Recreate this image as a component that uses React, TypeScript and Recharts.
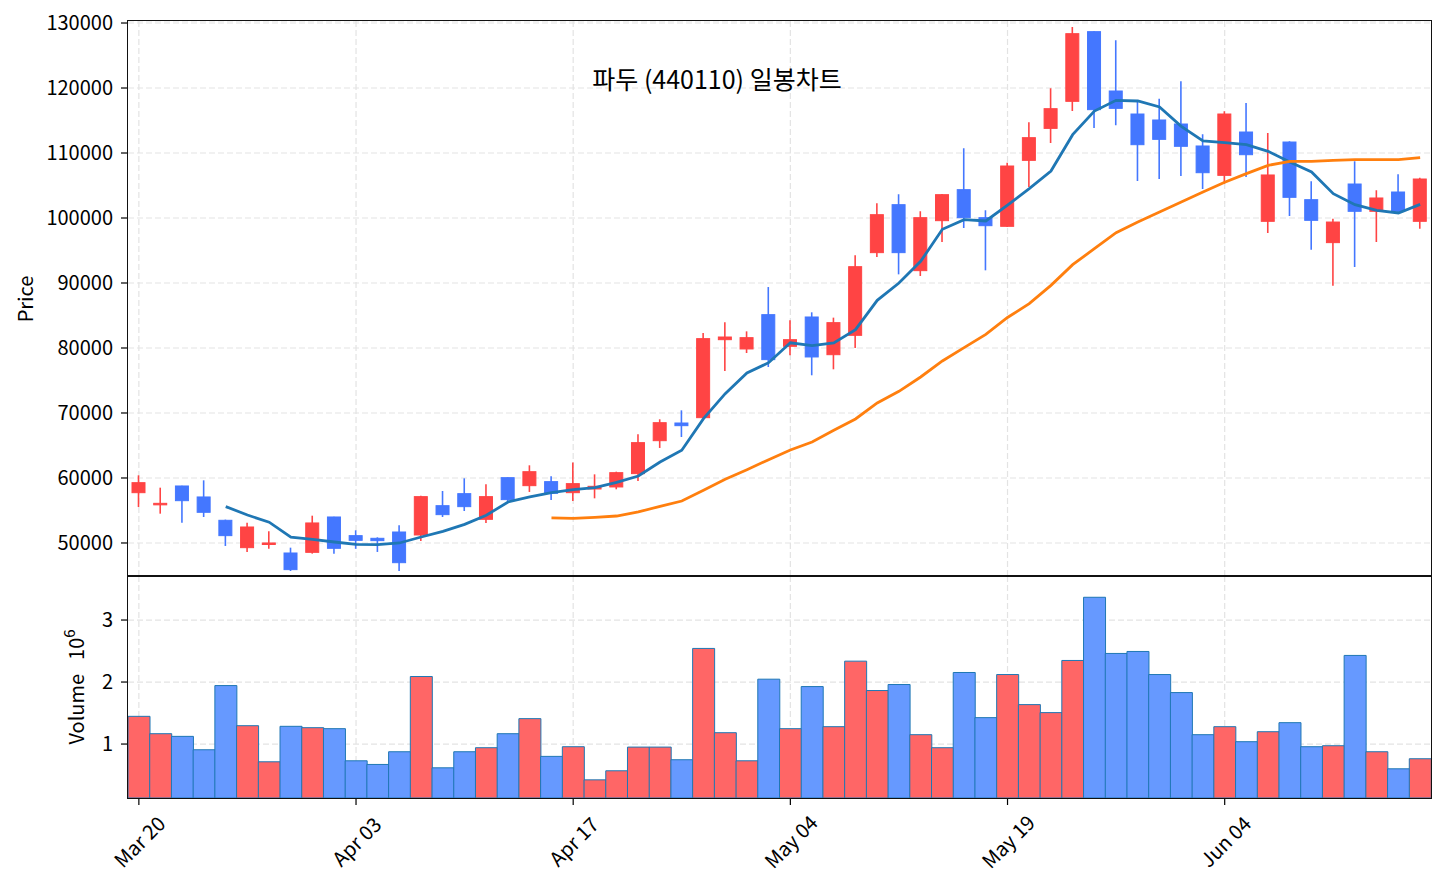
import React from 'react';
import { ComposedChart, Bar, Line, XAxis, YAxis, CartesianGrid, Cell } from 'recharts';

// trading days shown on the chart
const dates: string[] = [
  'Mar 20', 'Mar 21', 'Mar 24', 'Mar 25', 'Mar 26', 'Mar 27', 'Mar 28', 'Mar 31', 'Apr 01', 'Apr 02',
  'Apr 03', 'Apr 04', 'Apr 07', 'Apr 08', 'Apr 09', 'Apr 10', 'Apr 11', 'Apr 14', 'Apr 15', 'Apr 16',
  'Apr 17', 'Apr 18', 'Apr 21', 'Apr 22', 'Apr 23', 'Apr 24', 'Apr 25', 'Apr 28', 'Apr 29', 'Apr 30',
  'May 04', 'May 07', 'May 08', 'May 09', 'May 12', 'May 13', 'May 14', 'May 15', 'May 16', 'May 18',
  'May 19', 'May 20', 'May 21', 'May 22', 'May 23', 'May 26', 'May 27', 'May 28', 'May 29', 'Jun 02',
  'Jun 04', 'Jun 05', 'Jun 09', 'Jun 10', 'Jun 11', 'Jun 12', 'Jun 13', 'Jun 16', 'Jun 17', 'Jun 18',
];

const opens: number[] = [
  57740, 55900, 58770, 57080, 53490, 49280, 49900, 48460, 48560, 54000,
  51130, 50720, 51690, 51230, 55740, 57590, 53640, 60050, 58820, 59440,
  57740, 58310, 58620, 60670, 65740, 68460, 69280, 81280, 79850, 85130,
  80260, 84770, 78970, 81950, 94670, 102050, 91900, 99590, 104360, 100050,
  98720, 108870, 113790, 117950, 128670, 119540, 116000, 115080, 114460, 111080,
  106560, 113230, 99490, 111690, 102820, 96210, 105230, 101030, 104000, 99490,
];

const highs: number[] = [
  60410, 58510, 58820, 59640, 53590, 53130, 51800, 49280, 54200, 54050,
  51950, 50870, 52720, 57280, 58000, 59950, 59030, 60100, 61950, 60260,
  62400, 60560, 60970, 66720, 69030, 70410, 82310, 83950, 82560, 89380,
  84260, 85490, 84670, 94260, 102260, 103640, 101030, 103700, 110720, 101180,
  108510, 114720, 119950, 129380, 128720, 127330, 117850, 118360, 121030, 112870,
  116410, 117690, 113080, 111800, 105640, 99900, 108720, 104260, 106720, 106210,
];

const lows: number[] = [
  55540, 54510, 53130, 54000, 49540, 48620, 49130, 45690, 48360, 48360,
  49100, 48620, 45690, 50310, 54000, 54920, 53080, 56310, 57850, 56620,
  56460, 56870, 58260, 59540, 64620, 66310, 69230, 76460, 79230, 77080,
  78870, 75800, 76720, 80000, 94000, 91330, 91080, 96310, 98460, 91950,
  98600, 104770, 111540, 116460, 113850, 114260, 105690, 106000, 106460, 104460,
  105280, 106310, 97690, 100310, 95130, 89590, 92460, 96310, 100920, 98360,
];

const closes: number[] = [
  59280, 56100, 56510, 54720, 51130, 52460, 50000, 45900, 53080, 49180,
  50410, 50360, 46970, 57130, 54360, 55590, 57130, 56670, 60970, 57640,
  59130, 58720, 60820, 65440, 68510, 68050, 81440, 81690, 81590, 78210,
  81280, 78620, 83900, 92510, 100510, 94670, 100050, 103590, 100050, 98820,
  108000, 112360, 116820, 128360, 116670, 116870, 111280, 112100, 111030, 106970,
  116000, 109740, 106620, 103180, 99640, 99380, 101030, 103080, 101030, 106000,
];

const volumes: number[] = [
  1447000, 1167000, 1124000, 908000, 1943000, 1296000, 714000, 1286000, 1264000, 1248000,
  730000, 671000, 876000, 2089000, 617000, 876000, 941000, 1167000, 1410000, 801000,
  957000, 423000, 569000, 951000, 951000, 747000, 2542000, 1183000, 730000, 2046000,
  1248000, 1927000, 1280000, 2337000, 1863000, 1960000, 1151000, 941000, 2154000, 1426000,
  2121000, 1636000, 1507000, 2348000, 3367000, 2461000, 2493000, 2121000, 1830000, 1151000,
  1280000, 1038000, 1199000, 1345000, 957000, 973000, 2429000, 876000, 601000, 763000,
];

// moving averages (null where not drawn)
const ma5: (number | null)[] = [
  null, null, null, null, 55600, 54300, 53200, 50900, 50560, 50150,
  49800, 49740, 50000, 50920, 51800, 52870, 54260, 56310, 57080, 57740,
  58200, 58510, 59330, 60310, 62460, 64260, 69130, 72970, 76150, 77740,
  80800, 80360, 80770, 82820, 87330, 90000, 93330, 98260, 99740, 99540,
  102000, 104510, 107230, 112820, 116460, 118100, 118000, 117080, 114100, 111850,
  111590, 111280, 110260, 108620, 107080, 103740, 102050, 101180, 100770, 102100,
];

const ma20: (number | null)[] = [
  null, null, null, null, null, null, null, null, null, null,
  null, null, null, null, null, null, null, null, null, 53850,
  53800, 53950, 54150, 54770, 55640, 56460, 58100, 59800, 61280, 62820,
  64300, 65540, 67330, 69080, 71540, 73330, 75540, 78000, 80050, 82100,
  84700, 86820, 89640, 92820, 95280, 97740, 99390, 100920, 102460, 104000,
  105500, 106820, 108100, 108720, 108720, 108870, 108970, 108970, 108970, 109280,
];

const priceTicks: number[] = [50000, 60000, 70000, 80000, 90000, 100000, 110000, 120000, 130000];
const volumeTicks: number[] = [1000000, 2000000, 3000000];
const dateTickEvery = 10;

const UP = '#ff4444';
const DOWN = '#4477ff';
const VOL_UP = '#ff6666';
const VOL_DOWN = '#6699ff';
const FONT = '"Noto Sans CJK KR", "Noto Sans", sans-serif';

// plot geometry
const W = 1446;
const PLOT_LEFT = 128;
const PLOT_RIGHT = 1431;
const PRICE_TOP = 21;
const PRICE_BOTTOM = 576;
const VOL_BOTTOM = 798;
const Y_AXIS_W = 80;

interface Row {
  date: string;
  open: number;
  high: number;
  low: number;
  close: number;
  range: [number, number];
  volume: number;
  up: boolean;
  ma5: number | null;
  ma20: number | null;
}

const data: Row[] = dates.map((date, i) => ({
  date,
  open: opens[i],
  high: highs[i],
  low: lows[i],
  close: closes[i],
  range: [lows[i], highs[i]],
  volume: volumes[i],
  up: closes[i] >= opens[i],
  ma5: ma5[i],
  ma20: ma20[i],
}));

const band = (PLOT_RIGHT - PLOT_LEFT) / dates.length;
const gridX: number[] = dates
  .map((_, i) => i)
  .filter((i) => i % dateTickEvery === 0)
  .map((i) => PLOT_LEFT + (i + 0.5) * band);

const Candle = (props: any) => {
  const { x, y, width, height, payload } = props;
  if (!payload) return null;
  const { open, close, high, low } = payload as Row;
  const top = Math.min(y, y + height);
  const h = Math.abs(height);
  const k = high - low > 0 ? h / (high - low) : 0;
  const color = close >= open ? UP : DOWN;
  const cx = x + width / 2;
  const bodyTop = top + (high - Math.max(open, close)) * k;
  const bodyH = Math.max(Math.abs(close - open) * k, 1.5);
  return (
    <g>
      <line x1={cx} x2={cx} y1={top} y2={top + h} stroke={color} strokeWidth={1.6} />
      <rect x={x} y={bodyTop} width={width} height={bodyH} fill={color} stroke={color} strokeWidth={1} />
    </g>
  );
};

const DateTick = (props: any) => {
  const { x, y, payload } = props;
  return (
    <text
      x={0}
      y={0}
      transform={`translate(${x},${y + 34}) rotate(-45)`}
      textAnchor="middle"
      dominantBaseline="central"
      fontSize={20}
      fontFamily={FONT}
      fill="#000"
    >
      {payload.value}
    </text>
  );
};

const tickStyle = { fontSize: 20, fill: '#000', fontFamily: FONT };
const gridStyle = { stroke: '#e3e3e3', strokeDasharray: '6 3', strokeWidth: 1.2 };

const frame = (top: number, bottom: number): React.CSSProperties => ({
  position: 'absolute',
  left: PLOT_LEFT - 1,
  top: top - 1,
  width: PLOT_RIGHT - PLOT_LEFT + 2,
  height: bottom - top + 2,
  border: '1.5px solid #111',
  boxSizing: 'border-box',
  pointerEvents: 'none',
});

const App: React.FC = () => {
  const topH = 600;
  const volTop = 560;
  const volH = 891 - volTop;

  return (
    <div style={{ position: 'absolute', left: 0, top: 0, width: W, height: 891, background: '#fff', fontFamily: FONT }}>
      <div style={{ position: 'absolute', left: 0, top: 0 }}>
        <ComposedChart
          width={W}
          height={topH}
          data={data}
          margin={{ top: PRICE_TOP, right: W - PLOT_RIGHT, bottom: topH - PRICE_BOTTOM, left: PLOT_LEFT - Y_AXIS_W }}
        >
          <CartesianGrid {...gridStyle} verticalPoints={gridX} />
          <XAxis dataKey="date" type="category" hide />
          <YAxis
            width={Y_AXIS_W}
            domain={[44920, 130310]}
            ticks={priceTicks}
            allowDataOverflow
            axisLine={false}
            tickLine={{ stroke: '#000', strokeWidth: 1.2 }}
            tickSize={7}
            tickMargin={8}
            tick={tickStyle}
          />
          <Bar dataKey="range" barSize={13} shape={<Candle />} isAnimationActive={false} />
          <Line dataKey="ma5" stroke="#1f77b4" strokeWidth={2.8} dot={false} activeDot={false} isAnimationActive={false} />
          <Line dataKey="ma20" stroke="#ff7f0e" strokeWidth={2.8} dot={false} activeDot={false} isAnimationActive={false} />
        </ComposedChart>
      </div>

      <div style={{ position: 'absolute', left: 0, top: volTop }}>
        <ComposedChart
          width={W}
          height={volH}
          data={data}
          barCategoryGap={0}
          margin={{ top: PRICE_BOTTOM - volTop, right: W - PLOT_RIGHT, bottom: 33, left: PLOT_LEFT - Y_AXIS_W }}
        >
          <CartesianGrid {...gridStyle} verticalPoints={gridX} />
          <XAxis
            dataKey="date"
            type="category"
            height={volH - (VOL_BOTTOM - volTop) - 33}
            interval={dateTickEvery - 1}
            axisLine={false}
            tickLine={{ stroke: '#000', strokeWidth: 1.2 }}
            tickSize={7}
            tickMargin={2}
            tick={<DateTick />}
          />
          <YAxis
            width={Y_AXIS_W}
            domain={[130000, 3710000]}
            ticks={volumeTicks}
            allowDataOverflow
            axisLine={false}
            tickLine={{ stroke: '#000', strokeWidth: 1.2 }}
            tickSize={7}
            tickMargin={8}
            tick={tickStyle}
            tickFormatter={(v: number) => String(v / 1000000)}
          />
          <Bar dataKey="volume" stroke="#1f77b4" strokeWidth={1} isAnimationActive={false}>
            {data.map((d, i) => (
              <Cell key={i} fill={d.up ? VOL_UP : VOL_DOWN} />
            ))}
          </Bar>
        </ComposedChart>
      </div>

      <div style={frame(PRICE_TOP, PRICE_BOTTOM)} />
      <div style={frame(PRICE_BOTTOM, VOL_BOTTOM)} />

      <svg width={W} height={891} style={{ position: 'absolute', left: 0, top: 0, pointerEvents: 'none' }}>
        <text x={717} y={89} textAnchor="middle" fontSize={25} fontFamily={FONT} fill="#000">
          파두 (440110) 일봉차트
        </text>
        <text transform="translate(33,299) rotate(-90)" textAnchor="middle" fontSize={20} fontFamily={FONT} fill="#000">
          Price
        </text>
        <text transform="translate(84,687) rotate(-90)" textAnchor="middle" fontSize={20} fontFamily={FONT} fill="#000">
          Volume
          <tspan dx={14}>10</tspan>
          <tspan dy={-9} fontSize={15}>6</tspan>
        </text>
      </svg>
    </div>
  );
};

export default App;
